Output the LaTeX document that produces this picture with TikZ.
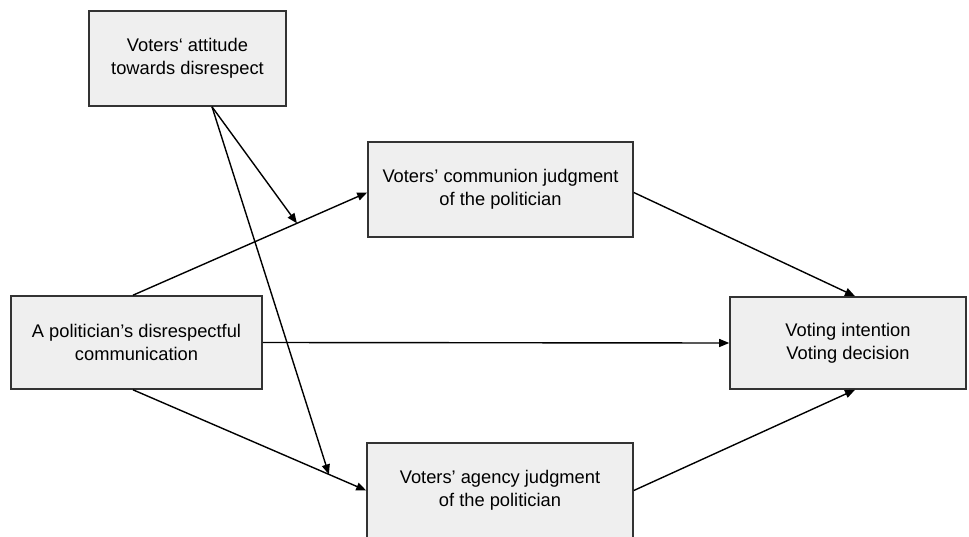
\documentclass[tikz,border=0pt]{standalone}
\usepackage{fontspec}
\setmainfont{Liberation Sans}
\usetikzlibrary{arrows.meta,calc}
\definecolor{boxfill}{HTML}{EFEFEF}
\definecolor{boxline}{HTML}{333333}
\tikzset{
  box/.style={draw=boxline, line width=1.6pt, fill=boxfill, rectangle, align=center,
    inner sep=0pt, font=\fontsize{18.3}{23}\selectfont},
  conn/.style={draw=black, line width=1.4pt, -{Triangle[length=10pt,width=8pt]}}
}
\begin{document}
\begin{tikzpicture}[x=1pt,y=-1pt]
\useasboundingbox (0,0) rectangle (969,537);
\clip (0,0) rectangle (969,537);
\fill[white] (0,0) rectangle (969,537);
\node[box, minimum width=197pt, minimum height=95pt] (att) at (187.5,58.5) {Voters‘ attitude\\towards disrespect};
\node[box, minimum width=265pt, minimum height=95pt] (com) at (500.5,189.5) {Voters’ communion judgment\\of the politician};
\node[box, minimum width=251pt, minimum height=93pt] (pol) at (136.5,342.5) {A politician’s disrespectful\\communication};
\node[box, minimum width=236pt, minimum height=92pt] (vot) at (848,343) {Voting intention\\Voting decision};
\node[box, minimum width=266pt, minimum height=95pt] (age) at (500,490.5) {Voters’ agency judgment\\of the politician};
\coordinate (attS) at ([xshift=24.5pt]att.south);
\coordinate (polN) at ([xshift=-3.5pt]pol.north);
\coordinate (polS) at ([xshift=-3.5pt]pol.south);
\coordinate (comW) at ([yshift=-3pt]com.west);
\coordinate (votN) at ([xshift=7pt]vot.north);
\coordinate (votS) at ([xshift=7pt]vot.south);
\draw[conn] (polN) -- (comW) coordinate[pos=0.7] (m1);
\draw[conn] (polS) -- (age.west) coordinate[pos=0.84] (m2);
\draw[conn] (pol.east) -- (vot.west);
\draw[conn] ([yshift=-3pt]com.east) -- (votN);
\draw[conn] (age.east) -- (votS);
\draw[conn] (attS) -- (m1);
\draw[conn] (attS) -- (m2);
\end{tikzpicture}
\end{document}
